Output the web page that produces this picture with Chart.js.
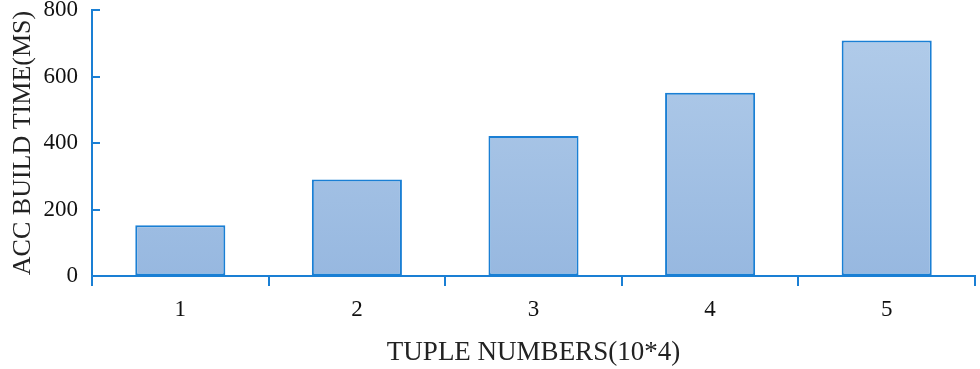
<!DOCTYPE html>
<html>
<head>
<meta charset="utf-8">
<script src="https://cdn.jsdelivr.net/npm/chart.js@4/dist/chart.umd.min.js"></script>
<style>
html,body{margin:0;padding:0;background:#fff;}
#wrap{width:980px;height:369px;position:relative;}
</style>
</head>
<body>
<div id="wrap"><canvas id="c" width="980" height="369"></canvas></div>
<script>
const categories = ["1", "2", "3", "4", "5"];
const buildTime = [153, 290, 421, 551, 708];
const yTicks = [0, 200, 400, 600, 800];
const xTitle = "TUPLE NUMBERS(10*4)";
const yTitle = "ACC BUILD TIME(MS)";

const axisColor = "#1a7fd4";
const fontFamily = "'Liberation Serif', 'Times New Roman', serif";

const innerTicks = {
  id: "innerTicks",
  afterDraw(chart) {
    const y = chart.scales.y;
    const ctx = chart.ctx;
    ctx.save();
    ctx.strokeStyle = axisColor;
    ctx.lineWidth = 2;
    yTicks.forEach(v => {
      const py = Math.round(y.getPixelForValue(v));
      ctx.beginPath();
      ctx.moveTo(y.right, py);
      ctx.lineTo(y.right + 8, py);
      ctx.stroke();
    });
    ctx.restore();
  }
};

new Chart(document.getElementById("c"), {
  type: "bar",
  data: {
    labels: categories,
    datasets: [{
      data: buildTime,
      backgroundColor(ctx) {
        const area = ctx.chart.chartArea;
        if (!area) return "#a8c4e6";
        const g = ctx.chart.ctx.createLinearGradient(0, area.top, 0, area.bottom);
        g.addColorStop(0, "#b3cdea");
        g.addColorStop(1, "#97b8e0");
        return g;
      },
      borderColor: axisColor,
      borderWidth: 2,
      borderSkipped: false,
      barPercentage: 0.51,
      categoryPercentage: 1.0
    }]
  },
  options: {
    responsive: false,
    animation: false,
    devicePixelRatio: 1,
    layout: { padding: { top: 10, right: 5, left: 0, bottom: 0 } },
    plugins: { legend: { display: false }, tooltip: { enabled: false } },
    scales: {
      x: {
        offset: true,
        grid: { offset: true, drawOnChartArea: false, drawTicks: true, tickLength: 10, color: axisColor, lineWidth: 2 },
        border: { display: true, color: axisColor, width: 2 },
        ticks: { color: "#111", font: { family: fontFamily, size: 23 }, padding: 10 },
        title: { display: true, text: xTitle, color: "#222", font: { family: fontFamily, size: 27 }, padding: { top: 8, bottom: 0 } },
        afterFit(s) { s.height = 93; s.paddingLeft = 0; s.paddingRight = 0; }
      },
      y: {
        min: 0, max: 800,
        afterBuildTicks(s) { s.ticks = yTicks.map(v => ({ value: v })); },
        grid: { drawOnChartArea: false, drawTicks: false },
        border: { display: true, color: axisColor, width: 2 },
        ticks: { color: "#111", font: { family: fontFamily, size: 23 }, padding: 14 },
        title: { display: true, text: yTitle, color: "#222", font: { family: fontFamily, size: 26 }, padding: { top: 8, bottom: 0 } },
        afterFit(s) { s.width = 92; s.paddingTop = 0; s.paddingBottom = 0; }
      }
    }
  },
  plugins: [innerTicks]
});
</script>
</body>
</html>
